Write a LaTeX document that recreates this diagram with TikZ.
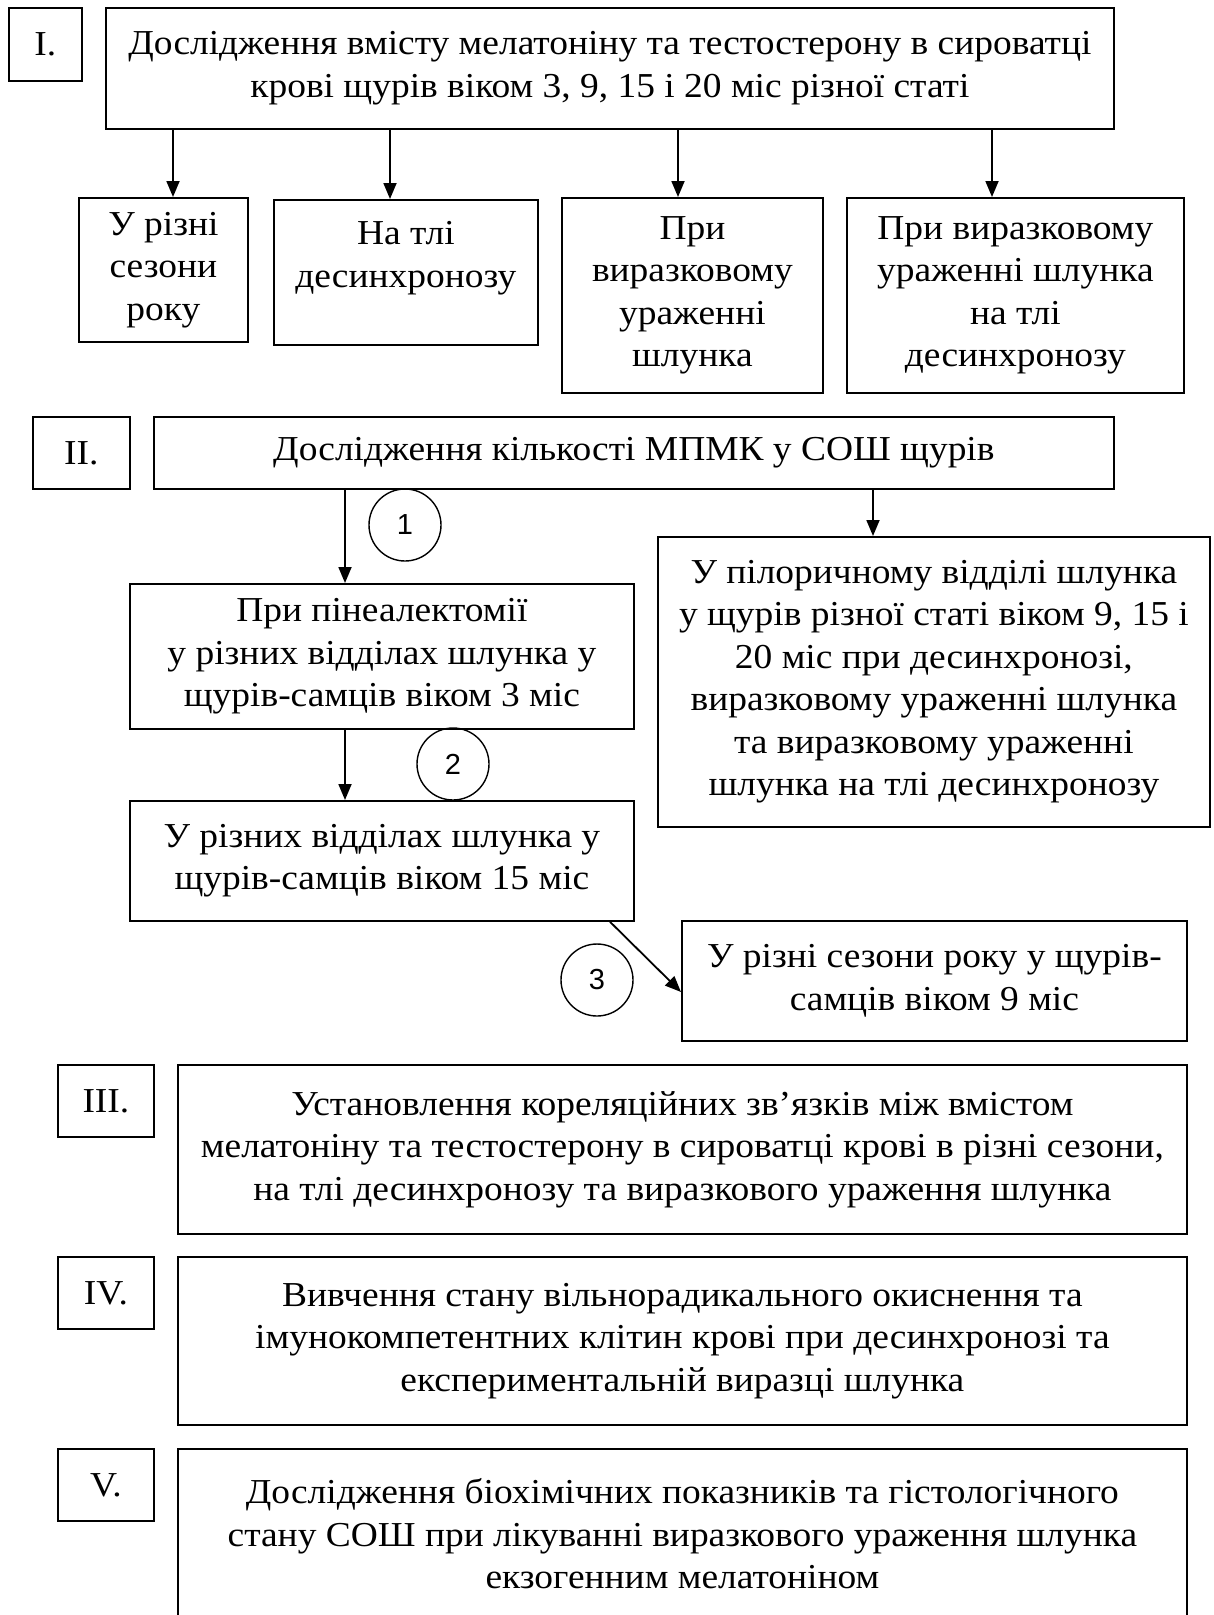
\documentclass[tikz,border=0pt]{standalone}
\usepackage{fontspec}
\setmainfont{Liberation Serif}[FakeStretch=1.07]
\newfontfamily\numfont{Liberation Sans}
\usetikzlibrary{arrows.meta}
\begin{document}
\begin{tikzpicture}[x=1pt,y=-1pt,
  font=\fontsize{35}{42.5}\selectfont,
  box/.style={draw, line width=1.8pt, inner sep=0pt, align=center, anchor=north west},
  txt/.style={inner sep=0pt, align=center},
  circ/.style={draw, circle, line width=1.4pt, minimum size=72pt, inner sep=0pt, font=\numfont\fontsize{29}{32}\selectfont},
  arr/.style={line width=1.8pt, -{Triangle[length=16pt,width=13pt]}}]
\useasboundingbox (0,0) rectangle (1214,1615);
% ---- I ----
\node[box, minimum width=73pt, minimum height=73pt] (labI) at (8,7) {I.};
\node[box, minimum width=1008pt, minimum height=121pt] (mainI) at (105,7)
  {Дослідження вмісту мелатоніну та тестостерону в сироватці\\крові щурів віком 3, 9, 15 і 20 міс різної статі};
\node[box, minimum width=169pt, minimum height=144pt] (a) at (78,197) {У різні\\сезони\\року};
\node[box, minimum width=264pt, minimum height=145pt] (b) at (273,199) {};
\node[txt] (bt) at ([yshift=14pt]b.center) {На тлі\\десинхронозу};
\node[box, minimum width=261pt, minimum height=195pt] (c) at (561,197) {При\\виразковому\\ураженні\\шлунка};
\node[box, minimum width=337pt, minimum height=195pt] (d) at (846,197) {При виразковому\\ураженні шлунка\\на тлі\\десинхронозу};
\coordinate (xa) at (173,0);
\coordinate (xb) at (390,0);
\coordinate (xc) at (678,0);
\coordinate (xd) at (992,0);
\draw[arr] (xa |- mainI.south) -- (xa |- a.north);
\draw[arr] (xb |- mainI.south) -- (xb |- b.north);
\draw[arr] (xc |- mainI.south) -- (xc |- c.north);
\draw[arr] (xd |- mainI.south) -- (xd |- d.north);
% ---- II ----
\node[box, minimum width=97pt, minimum height=72pt] (labII) at (32,416) {II.};
\node[box, minimum width=960pt, minimum height=72pt] (mainII) at (153,416) {Дослідження кількості МПМК у СОШ щурів};
\node[box, minimum width=504pt, minimum height=145pt] (pin) at (129,583)
  {При пінеалектомії\\у різних відділах шлунка у\\щурів-самців віком 3 міс};
\node[box, minimum width=504pt, minimum height=120pt] (mid) at (129,800)
  {У різних відділах шлунка у\\щурів-самців віком 15 міс};
\node[box, minimum width=552pt, minimum height=290pt] (pyl) at (657,536)
  {У пілоричному відділі шлунка\\у щурів різної статі віком 9, 15 і\\20 міс при десинхронозі,\\виразковому ураженні шлунка\\та виразковому ураженні\\шлунка на тлі десинхронозу};
\node[box, minimum width=505pt, minimum height=120pt] (seas) at (681,920)
  {У різні сезони року у щурів-\\самців віком 9 міс};
\coordinate (xp) at (345,0);
\coordinate (xr) at (873,0);
\coordinate (xg) at (610,0);
\coordinate (yg) at (0,992);
\draw[arr] (xp |- mainII.south) -- (xp |- pin.north);
\draw[arr] (xr |- mainII.south) -- (xr |- pyl.north);
\draw[arr] (xp |- pin.south) -- (xp |- mid.north);
\draw[arr] (xg |- mid.south) -- (seas.west |- yg);
\node[circ] (n1) at (405,525) {1};
\node[circ] (n2) at (453,764) {2};
\node[circ] (n3) at (597,980) {3};
% ---- III ----
\node[box, minimum width=96pt, minimum height=72pt] (labIII) at (57,1064) {III.};
\node[box, minimum width=1009pt, minimum height=169pt] (mainIII) at (177,1064)
  {Установлення кореляційних зв’язків між вмістом\\мелатоніну та тестостерону в сироватці крові в різні сезони,\\на тлі десинхронозу та виразкового ураження шлунка};
% ---- IV ----
\node[box, minimum width=96pt, minimum height=72pt] (labIV) at (57,1256) {IV.};
\node[box, minimum width=1009pt, minimum height=168pt] (mainIV) at (177,1256)
  {Вивчення стану вільнорадикального окиснення та\\імунокомпетентних клітин крові при десинхронозі та\\експериментальній виразці шлунка};
% ---- V ----
\node[box, minimum width=96pt, minimum height=72pt] (labV) at (57,1448) {V.};
\node[box, minimum width=1009pt, minimum height=170pt] (mainV) at (177,1448)
  {Дослідження біохімічних показників та гістологічного\\стану СОШ при лікуванні виразкового ураження шлунка\\екзогенним мелатоніном};
\end{tikzpicture}
\end{document}
